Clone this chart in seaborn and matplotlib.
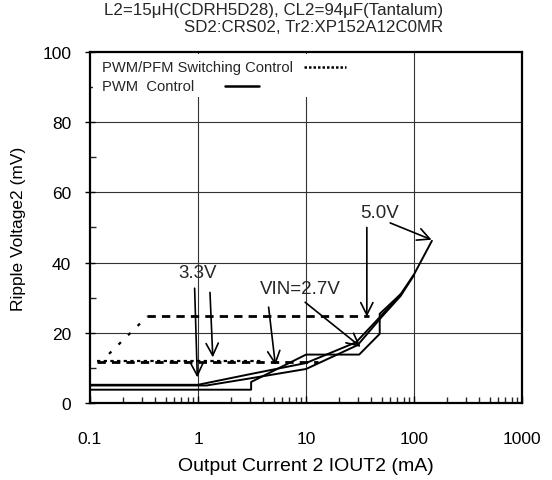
import matplotlib
matplotlib.use("Agg")
import matplotlib.pyplot as plt
import seaborn as sns
import pandas as pd
from matplotlib.patches import Rectangle
from matplotlib.ticker import LogLocator, MultipleLocator, NullFormatter

# ---------------- data ----------------
# PWM control (solid)
pwm_a_x = [0.1, 1.0, 3.0, 10, 29, 50, 75]
pwm_a_y = [5.2, 5.2, 8.2, 11.4, 17.3, 25.0, 31.0]
pwm_b_x = [0.1, 1.2, 3.0, 10, 30, 50, 75, 100]
pwm_b_y = [5.0, 5.0, 7.0, 9.7, 16.5, 24.5, 30.5, 36.5]
pwm_c_x = [0.1, 3.1, 3.1, 10, 31, 48, 48, 75, 100, 146]
pwm_c_y = [3.8, 3.8, 6.0, 13.8, 13.8, 19.7, 25.4, 31.0, 36.7, 46.2]

# PWM/PFM switching control (dashed / dotted)
pfm_low1_x = [0.115, 13]
pfm_low1_y = [11.7, 11.7]
pfm_low2_x = [0.115, 4.0]
pfm_low2_y = [11.9, 11.9]
pfm_rise_x = [0.15, 0.34]
pfm_rise_y = [14.0, 24.7]
pfm_high_x = [0.34, 38]
pfm_high_y = [24.7, 24.7]

title_lines = ["L2=15\u03bcH(CDRH5D28), CL2=94\u03bcF(Tantalum)",
               "SD2:CRS02, Tr2:XP152A12C0MR"]
x_ticks = [0.1, 1, 10, 100, 1000]
x_ticklabels = ["0.1", "1", "10", "100", "1000"]
y_ticks = [0, 20, 40, 60, 80, 100]

# annotations: (label, label_xy, [(start, end), ...])
ann_33 = ("3.3V", (1.0, 37.3), [((0.93, 32.7), (0.985, 7.3)), ((1.29, 31.5), (1.37, 13.0))])
ann_27 = ("VIN=2.7V", (8.8, 32.5), [((4.5, 27.3), (5.2, 10.8)), ((9.8, 28.7), (32.0, 16.0))])
ann_50 = ("5.0V", (48.0, 54.4), [((36.5, 50.0), (36.5, 24.6)), ((60.0, 51.3), (145.0, 46.5))])

# ---------------- style ----------------
sns.set_theme(style="white")
plt.rcParams["font.family"] = ["Liberation Sans", "DejaVu Sans"]
plt.rcParams["axes.linewidth"] = 1.6

fig = plt.figure(figsize=(5.52, 4.81), dpi=100)
ax = fig.add_axes([0.163, 0.160, 0.783, 0.730])

def draw(xs, ys, lw, dashes=None):
    df = pd.DataFrame({"x": xs, "y": ys})
    sns.lineplot(data=df, x="x", y="y", ax=ax, color="black", lw=lw,
                 sort=False, estimator=None, legend=False)
    if dashes is not None:
        ax.lines[-1].set_dashes(dashes)

draw(pfm_low1_x, pfm_low1_y, 2.0, (3.0, 2.2))
draw(pfm_low2_x, pfm_low2_y, 1.6, (1.5, 1.5))
draw(pfm_rise_x, pfm_rise_y, 1.6, (1.5, 4.5))
draw(pfm_high_x, pfm_high_y, 2.0, (3.0, 2.2))
draw(pwm_a_x, pwm_a_y, 1.4)
draw(pwm_b_x, pwm_b_y, 1.4)
draw(pwm_c_x, pwm_c_y, 1.4)

ax.set_xscale("log")
ax.set_xlim(0.1, 1000)
ax.set_ylim(0, 100)
ax.set_xticks(x_ticks)
ax.set_xticklabels(x_ticklabels)
ax.xaxis.set_minor_locator(LogLocator(base=10, subs=range(2, 10), numticks=20))
ax.xaxis.set_minor_formatter(NullFormatter())
ax.set_yticks(y_ticks)
ax.yaxis.set_minor_locator(MultipleLocator(10))

for s in ax.spines.values():
    s.set_visible(True)
    s.set_color("black")
    s.set_linewidth(1.6)

ax.tick_params(axis="x", which="major", direction="in", length=5, width=1.0,
               labelsize=12.5, pad=20, colors="black", bottom=True)
ax.tick_params(axis="x", which="minor", direction="in", length=4, width=1.0, bottom=True)
ax.tick_params(axis="y", which="major", direction="inout", length=7, width=1.0,
               labelsize=12.5, pad=10, colors="black", left=True)
ax.tick_params(axis="y", which="minor", direction="in", length=4, width=1.0, left=True)

# grid
for gx in [1, 10, 100]:
    ax.axvline(gx, color="#333333", lw=0.8, zorder=0.5)
for gy in [20, 40, 60, 80]:
    ax.axhline(gy, color="#333333", lw=0.8, zorder=0.5)

ax.set_xlabel("Output Current 2 IOUT2 (mA)", fontsize=14, labelpad=8, color="black")
ax.set_ylabel("Ripple Voltage2 (mV)", fontsize=12.5, labelpad=12, color="black")

# title (right aligned)
fig.text(443 / 552, 1 - 10 / 481, title_lines[0], ha="right", va="center", fontsize=12.2)
fig.text(443 / 552, 1 - 28 / 481, title_lines[1], ha="right", va="center", fontsize=12.2)

# legend block
ax.add_patch(Rectangle((0.006, 0.872), 0.60, 0.122, transform=ax.transAxes,
                       facecolor="white", edgecolor="none", zorder=3))
ax.text(0.028, 0.958, "PWM/PFM Switching Control", transform=ax.transAxes,
        fontsize=10.6, va="center", ha="left", zorder=4)
ax.text(0.028, 0.903, "PWM  Control", transform=ax.transAxes,
        fontsize=10.6, va="center", ha="left", zorder=4)
ax.plot([0.495, 0.592], [0.958, 0.958], transform=ax.transAxes, color="black",
        lw=1.8, dashes=(1.0, 0.8), zorder=4)
ax.plot([0.312, 0.390], [0.903, 0.903], transform=ax.transAxes, color="black",
        lw=1.8, zorder=4)

# annotations
for label, lxy, arrows in [ann_33, ann_27, ann_50]:
    ax.text(lxy[0], lxy[1], label, ha="center", va="center", fontsize=13.5, zorder=5)
    for st, en in arrows:
        ax.annotate("", xy=en, xytext=st,
                    arrowprops=dict(arrowstyle="->", color="black", lw=1.2,
                                    mutation_scale=22, shrinkA=0, shrinkB=0),
                    zorder=5)

fig.savefig("out.png", dpi=100)
